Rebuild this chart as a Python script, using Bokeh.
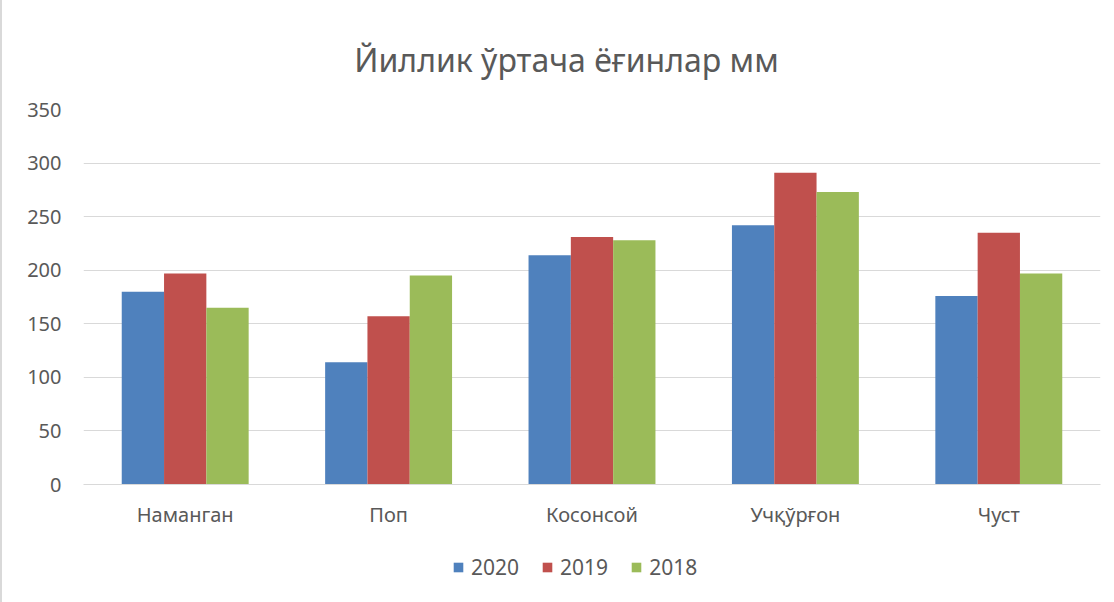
from bokeh.plotting import figure
from bokeh.models import FactorRange, Range1d, Legend, LegendItem, ColumnDataSource, FixedTicker, Label
from bokeh.layouts import column
from bokeh.transform import dodge
from bokeh.embed import file_html
from bokeh.resources import INLINE

categories = ["Наманган", "Поп", "Косонсой", "Учқўрғон", "Чуст"]
years = ["2020", "2019", "2018"]
v2020 = [180, 114, 214, 242, 176]
v2019 = [197, 157, 231, 291, 235]
v2018 = [165, 195, 228, 273, 197]
y_ticks = [0, 50, 100, 150, 200, 250, 300, 350]
title_text = "Йиллик ўртача ёғинлар мм"

colors = ["#4F81BD", "#C0504D", "#9BBB59"]
FONT = "Noto Sans"
GREY = "#595959"
BORDER = {"border-left": "2px solid #d9d9d9"}
ML, MR = 81, 14

src = ColumnDataSource(dict(cat=categories, v2020=v2020, v2019=v2019, v2018=v2018))


def strip(h, xr, yr):
    f = figure(width=1112, height=h, output_backend="svg", toolbar_location=None,
               x_range=xr, y_range=yr,
               min_border_left=ML, min_border_right=MR, min_border_top=0, min_border_bottom=0)
    f.axis.visible = False
    f.grid.visible = False
    f.outline_line_color = None
    f.background_fill_color = "white"
    f.border_fill_color = "white"
    f.styles = BORDER
    return f


# title strip
t = strip(90, Range1d(0, 1), Range1d(0, 1))
t.add_layout(Label(x=483, y=31, x_units="screen", y_units="screen", text=title_text,
                   text_align="center", text_baseline="alphabetic",
                   text_font=FONT, text_font_size="32px", text_color=GREY))

# main chart
p = figure(x_range=FactorRange(*categories), y_range=Range1d(0, 350),
           width=1112, height=450, output_backend="svg", toolbar_location=None,
           min_border_left=ML, min_border_right=MR, min_border_top=19, min_border_bottom=56)
p.title.visible = False
p.outline_line_color = None
p.background_fill_color = "white"
p.border_fill_color = "white"
p.styles = BORDER

bw = 0.208
for i, (yr, col) in enumerate(zip(years, colors)):
    p.vbar(x=dodge("cat", (i - 1) * bw, range=p.x_range), top="v" + yr, width=bw,
           source=src, fill_color=col, line_color=None)

p.yaxis.ticker = FixedTicker(ticks=y_ticks)
p.yaxis.axis_line_color = None
p.yaxis.major_tick_line_color = None
p.yaxis.minor_tick_line_color = None
p.yaxis.major_label_standoff = 16
p.yaxis.major_label_text_font = FONT
p.yaxis.major_label_text_font_size = "20px"
p.yaxis.major_label_text_color = GREY

p.xaxis.axis_line_color = "#d9d9d9"
p.xaxis.major_tick_line_color = None
p.xaxis.major_label_standoff = 10
p.xaxis.major_label_text_font = FONT
p.xaxis.major_label_text_font_size = "20px"
p.xaxis.major_label_text_color = GREY

p.xgrid.grid_line_color = None
p.ygrid.grid_line_color = "#d9d9d9"
p.ygrid.grid_line_width = 1

# legend strip (zero-width swatch renderers that use the same data, outside the strip's range)
q = strip(62, FactorRange(*categories), Range1d(-2000, -1000))
swatches = [q.vbar(x="cat", top="v" + yr, width=0, source=src, fill_color=c, line_color=None)
            for yr, c in zip(years, colors)]
legend = Legend(items=[LegendItem(label=yr, renderers=[r]) for yr, r in zip(years, swatches)],
                orientation="horizontal", location=(369, 21),
                glyph_width=12, glyph_height=12, label_standoff=7, spacing=22,
                padding=0, margin=0, border_line_color=None, background_fill_alpha=0,
                label_text_font=FONT, label_text_font_size="21px", label_text_color=GREY)
q.add_layout(legend, "center")

layout = column(t, p, q, spacing=0)
open("out.html", "w").write(file_html(layout, INLINE))
